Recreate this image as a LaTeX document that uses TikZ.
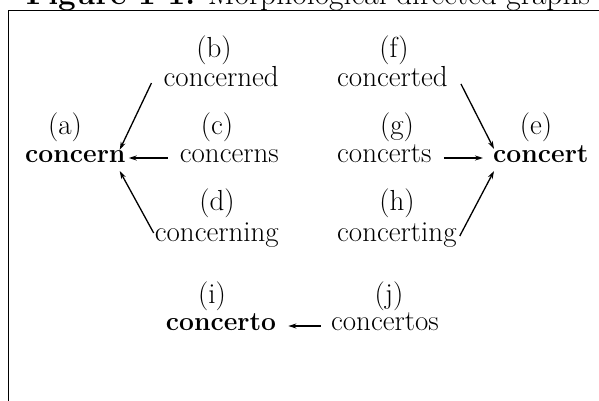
\documentclass[tikz,border=0pt]{standalone}
\usetikzlibrary{arrows.meta}
\begin{document}
\begin{tikzpicture}[x=1pt,y=-1pt,
  every node/.style={inner sep=0pt, font=\fontsize{29}{34}\selectfont},
  lab/.style={anchor=base},
  wordR/.style={anchor=base east},
  wordL/.style={anchor=base west},
  wordC/.style={anchor=base},
  root/.style={font=\fontsize{26.5}{32}\selectfont\bfseries},
  arr/.style={-{Stealth[length=8pt,width=5pt]}, line width=1.3pt},
  frame/.style={line width=1.8pt}]
\useasboundingbox (0,0) rectangle (599,401);
\clip (0,0) rectangle (599,401);
% title (cut off at the top)
\node[anchor=base, font=\fontsize{31.5}{36}\selectfont] (title) at (308,5) {\textbf{Figure 1-1:} Morphological directed graphs};
% frame
\draw[frame] (8.5,401) -- (8.5,10.5) -- (599,10.5);
% left group
\node[lab] (la) at (65,134) {(a)};
\node[wordL,root] (concern) at (25,162) {concern};
\node[lab] (lb) at (214,58) {(b)};
\node[wordR] (concerned) at (279,87) {concerned};
\node[lab] (lc) at (217,134) {(c)};
\node[wordR] (concerns) at (279,162) {concerns};
\node[lab] (ld) at (217,210) {(d)};
\node[wordR] (concerning) at (279,241) {concerning};
% right group
\node[lab] (le) at (536,134) {(e)};
\node[wordL,root] (concert) at (493,162) {concert};
\node[lab] (lf) at (394,58) {(f)};
\node[wordL] (concerted) at (337,87) {concerted};
\node[lab] (lg) at (397,134) {(g)};
\node[wordL] (concerts) at (337,162) {concerts};
\node[lab] (lh) at (397,210) {(h)};
\node[wordL] (concerting) at (337,241) {concerting};
% bottom row
\node[lab] (li) at (212,303) {(i)};
\node[wordC,root] (concerto) at (221,330) {concerto};
\node[lab] (lj) at (389,303) {(j)};
\node[wordC] (concertos) at (385,330) {concertos};
% connectors
\draw[arr] ([xshift=-12pt,yshift=4pt]concerned.base west) -- ([xshift=-6pt]concern.north east);
\draw[arr] ([xshift=-12pt,yshift=4pt]concerns.base west) -- ([xshift=3pt,yshift=4pt]concern.base east);
\draw[arr] ([xshift=-1pt,yshift=8pt]concerning.base west) -- ([xshift=-6pt,yshift=-9pt]concern.base east);
\draw[arr] ([xshift=13pt,yshift=3pt]concerted.base east) -- ([xshift=1pt,yshift=-4pt]concert.north west);
\draw[arr] ([xshift=12pt,yshift=4pt]concerts.base east) -- ([xshift=-10pt,yshift=4pt]concert.base west);
\draw[arr] ([xshift=3pt,yshift=5pt]concerting.base east) -- ([xshift=1pt,yshift=-9pt]concert.base west);
\draw[arr] ([xshift=-10pt,yshift=4pt]concertos.base west) -- ([xshift=12pt,yshift=4pt]concerto.base east);
\end{tikzpicture}
\end{document}
